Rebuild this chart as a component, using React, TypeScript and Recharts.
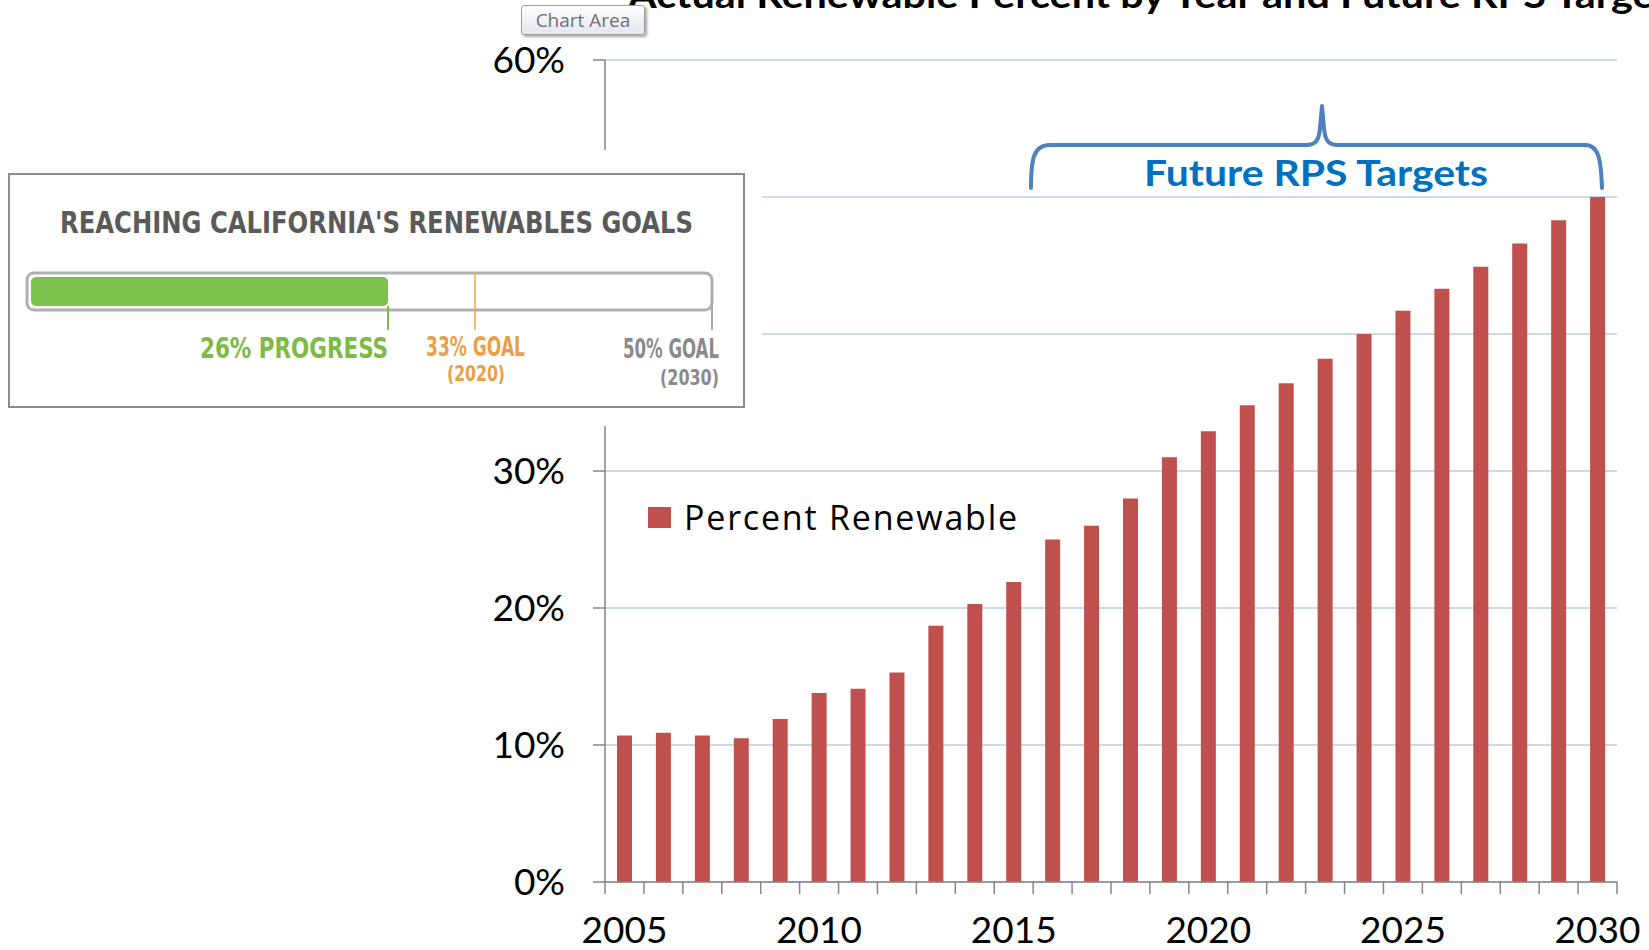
import React from "react"
import { BarChart, Bar, XAxis, YAxis, CartesianGrid, Legend } from "recharts"

const years = [
  "2005", "2006", "2007", "2008", "2009", "2010", "2011", "2012", "2013",
  "2014", "2015", "2016", "2017", "2018", "2019", "2020", "2021", "2022",
  "2023", "2024", "2025", "2026", "2027", "2028", "2029", "2030",
]

const percentRenewable = [
  10.7, 10.9, 10.7, 10.5, 11.9, 13.8, 14.1, 15.3, 18.7, 20.3, 21.9, 25.0, 26.0,
  28.0, 31.0, 32.9, 34.8, 36.4, 38.2, 40.0, 41.7, 43.3, 44.9, 46.6, 48.3, 50.0,
]

const yTicks = [0, 10, 20, 30, 40, 50, 60]
// these two labels sit under the pasted-in goals box in the original
const hiddenYLabels = [40, 50]

const BAR_COLOR = "#c0504d"
const AXIS_COLOR = "#868686"
const GRID_COLOR = "#bccbe8"

const chartData = years.map((year, i) => ({ year, pct: percentRenewable[i] }))

// ticks sit on the category boundaries (excel style), labels every 5 years
const YearTick = (props: any) => {
  const { x, y, payload, index } = props
  const half = payload?.offset ?? 19.5
  const isLast = index === years.length - 1 || payload?.value === years[years.length - 1]
  const showLabel = Number(payload?.value) % 5 === 0
  return (
    <g>
      <line x1={x - half} x2={x - half} y1={y} y2={y + 12} stroke={AXIS_COLOR} strokeWidth={1.5} />
      {isLast && <line x1={x + half} x2={x + half} y1={y} y2={y + 12} stroke={AXIS_COLOR} strokeWidth={1.5} />}
      {showLabel && (
        <text x={x} y={y + 61} textAnchor="middle" fontSize={37} fill="#000">
          {payload.value}
        </text>
      )}
    </g>
  )
}

const renderLegend = (props: any) => {
  const item = props.payload?.[0]
  return (
    <div style={{ display: "flex", alignItems: "center" }}>
      <span style={{ display: "inline-block", width: 23, height: 21, background: item?.color ?? BAR_COLOR, marginRight: 13 }} />
      <span
        style={{
          fontFamily: '"Open Sans", sans-serif',
          fontSize: 34,
          letterSpacing: 1.8,
          lineHeight: "40px",
          color: "#000",
          whiteSpace: "nowrap",
        }}
      >
        {item?.value}
      </span>
    </div>
  )
}

const GoalsInset = () => {
  const narrow = '"Liberation Sans Narrow", "DejaVu Sans Condensed", "Arial Narrow", sans-serif'
  return (
    <svg width={762} height={276} style={{ position: "absolute", left: 0, top: 150 }}>
      <rect x={0} y={0} width={762} height={276} fill="#fff" />
      <rect x={9} y={24} width={735} height={233} fill="#fff" stroke="#8c8c8c" strokeWidth={2} />
      <text x={60} y={83} fontFamily={narrow} fontWeight="bold" fontSize={31} fill="#5a5a5a" textLength={633} lengthAdjust="spacingAndGlyphs">
        REACHING CALIFORNIA'S RENEWABLES GOALS
      </text>
      <rect x={27} y={123} width={685} height={37} rx={7} fill="#fff" stroke="#b0b0b0" strokeWidth={3} />
      <rect x={31} y={127} width={357} height={29} rx={5} fill="#7dc24b" />
      <line x1={388} x2={388} y1={156} y2={180} stroke="#7dc24b" strokeWidth={2} />
      <line x1={475} x2={475} y1={122} y2={180} stroke="#f0a848" strokeWidth={1.5} />
      <line x1={712} x2={712} y1={148} y2={180} stroke="#a8a8a8" strokeWidth={2} />
      <text x={200} y={208} fontFamily={narrow} fontWeight="bold" fontSize={29} fill="#7dbb45" textLength={188} lengthAdjust="spacingAndGlyphs">
        26% PROGRESS
      </text>
      <text x={426} y={206} fontFamily={narrow} fontWeight="bold" fontSize={26} fill="#e8a04a" textLength={99} lengthAdjust="spacingAndGlyphs">
        33% GOAL
      </text>
      <text x={447} y={231} fontFamily={narrow} fontWeight="bold" fontSize={22} fill="#e8a04a" textLength={58} lengthAdjust="spacingAndGlyphs">
        (2020)
      </text>
      <text x={623} y={208} fontFamily={narrow} fontWeight="bold" fontSize={26} fill="#8a8a8a" textLength={96} lengthAdjust="spacingAndGlyphs">
        50% GOAL
      </text>
      <text x={660} y={235} fontFamily={narrow} fontWeight="bold" fontSize={22} fill="#8a8a8a" textLength={59} lengthAdjust="spacingAndGlyphs">
        (2030)
      </text>
    </svg>
  )
}

export default function App() {
  return (
    <div
      style={{
        position: "absolute",
        left: 0,
        top: 0,
        width: 1649,
        height: 950,
        overflow: "hidden",
        background: "#fff",
        fontFamily: "Lato, sans-serif",
      }}
    >
      <BarChart width={1649} height={950} data={chartData} margin={{ top: 60, right: 32, bottom: 0, left: 0 }}>
        <CartesianGrid vertical={false} stroke={GRID_COLOR} strokeWidth={1.5} />
        <XAxis
          dataKey="year"
          height={68}
          interval={0}
          tick={<YearTick />}
          tickLine={false}
          tickSize={0}
          tickMargin={0}
          axisLine={{ stroke: AXIS_COLOR, strokeWidth: 1.5 }}
        />
        <YAxis
          type="number"
          domain={[0, 60]}
          ticks={yTicks}
          width={605}
          tickFormatter={(v: number) => (hiddenYLabels.includes(v) ? "" : `${v}%`)}
          tick={{ fontSize: 37, fill: "#000" }}
          tickSize={12}
          tickMargin={28}
          tickLine={{ stroke: AXIS_COLOR, strokeWidth: 1.5 }}
          axisLine={{ stroke: AXIS_COLOR, strokeWidth: 1.5 }}
        />
        <Legend
          layout="horizontal"
          verticalAlign="middle"
          align="center"
          content={renderLegend}
          wrapperStyle={{ left: 648, top: 497, width: "auto" }}
        />
        <Bar dataKey="pct" name="Percent Renewable" fill={BAR_COLOR} barSize={15} isAnimationActive={false} />
      </BarChart>

      <svg width={1649} height={950} style={{ position: "absolute", left: 0, top: 0, pointerEvents: "none" }}>
        <text x={628} y={8} fontSize={37} fontWeight="bold" fill="#000" textLength={1060} lengthAdjust="spacingAndGlyphs">
          Actual Renewable Percent by Year and Future RPS Targets
        </text>
        <path
          d="M1031,188 C1031,160 1033,145 1050,145 L1306,145 C1316,145 1319,140 1320,128 L1322,106 L1324,128 C1325,140 1328,145 1338,145 L1585,145 C1599,145 1601,160 1602,188"
          fill="none"
          stroke="#4f81bd"
          strokeWidth={4}
          strokeLinecap="round"
          strokeLinejoin="round"
        />
        <text x={1316} y={186} textAnchor="middle" fontSize={37} fontWeight="bold" fill="#0070c0" textLength={344} lengthAdjust="spacingAndGlyphs">
          Future RPS Targets
        </text>
      </svg>

      <div
        style={{
          position: "absolute",
          left: 521,
          top: 5,
          width: 122,
          height: 28,
          border: "1px solid #a0a0a0",
          borderRadius: 3,
          background: "linear-gradient(#ffffff, #e4e6ee)",
          boxShadow: "2px 2px 3px rgba(0,0,0,0.35)",
          color: "#707070",
          fontFamily: '"Open Sans", sans-serif',
          fontSize: 19,
          lineHeight: "28px",
          textAlign: "center",
        }}
      >
        Chart Area
      </div>

      <GoalsInset />
    </div>
  )
}
